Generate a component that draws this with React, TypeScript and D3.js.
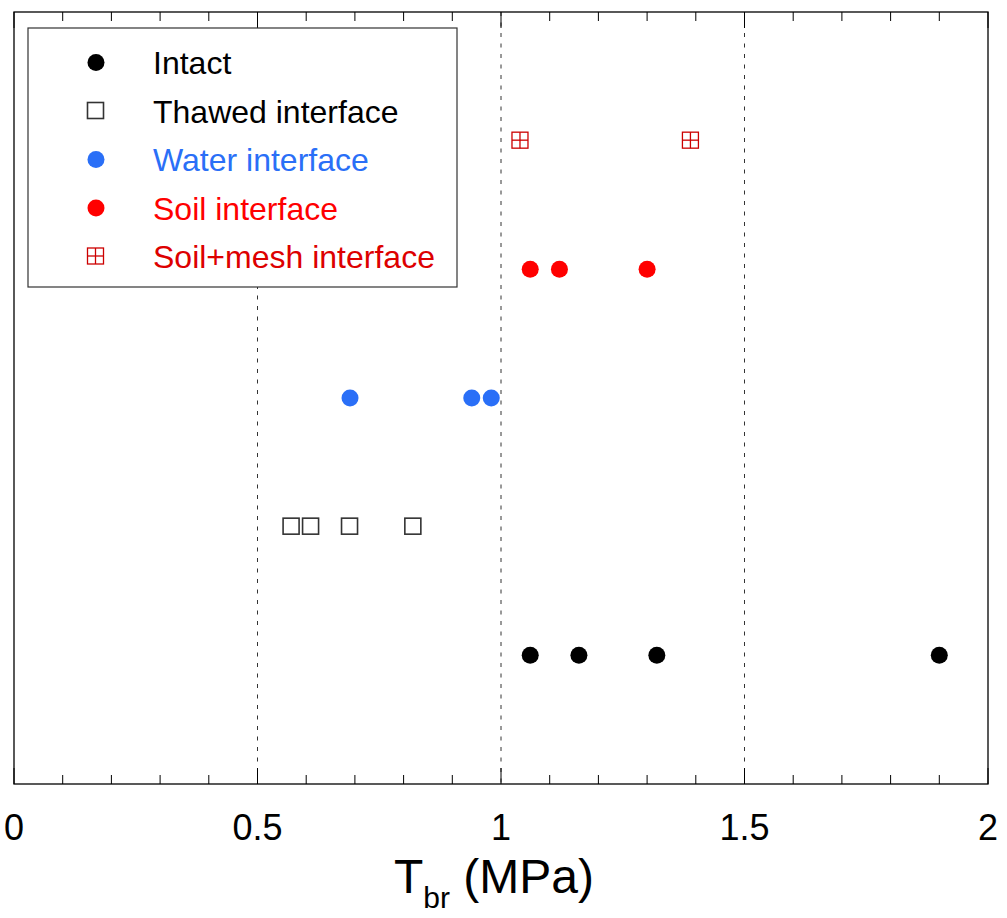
import React from "react";
import * as d3 from "d3";

const seriesNames = ["Intact", "Thawed interface", "Water interface", "Soil interface", "Soil+mesh interface"];
const seriesRows = [1, 2, 3, 4, 5];
const intactValues = [1.06, 1.16, 1.32, 1.9];
const thawedValues = [0.57, 0.61, 0.69, 0.82];
const waterValues = [0.69, 0.94, 0.98];
const soilValues = [1.06, 1.12, 1.3];
const soilMeshValues = [1.04, 1.39];
const xTicks = [0, 0.5, 1, 1.5, 2];
const xTickLabels = ["0", "0.5", "1", "1.5", "2"];
const gridValues = [0.5, 1, 1.5];

const W = 1007;
const H = 918;
const left = 14;
const right = 988;
const top = 12;
const bottom = 784;
const FONT = "'Liberation Sans', Arial, Helvetica, sans-serif";

type Kind = "dot" | "square" | "mesh";
const styles: { kind: Kind; color: string; text: string }[] = [
  { kind: "dot", color: "#000000", text: "#000000" },
  { kind: "square", color: "#333333", text: "#000000" },
  { kind: "dot", color: "#2a6ff7", text: "#2a6ff7" },
  { kind: "dot", color: "#ff0000", text: "#ff0000" },
  { kind: "mesh", color: "#cc0000", text: "#dd0000" },
];

function Marker({ kind, color, cx, cy }: { kind: Kind; color: string; cx: number; cy: number }) {
  const s = 17;
  if (kind === "dot") return <circle cx={cx} cy={cy} r={8.5} fill={color} />;
  if (kind === "square")
    return <rect x={cx - s / 2} y={cy - s / 2} width={s - 1} height={s - 1} fill="none" stroke={color} strokeWidth={1.6} />;
  return (
    <g stroke={color} strokeWidth={1.3} fill="none">
      <rect x={cx - s / 2} y={cy - s / 2} width={s - 1} height={s - 1} />
      <line x1={cx - 0.5} x2={cx - 0.5} y1={cy - s / 2} y2={cy + s / 2 - 1} />
      <line x1={cx - s / 2} x2={cx + s / 2 - 1} y1={cy - 0.5} y2={cy - 0.5} />
    </g>
  );
}

export default function App() {
  const x = d3.scaleLinear().domain([0, 2]).range([left, right]);
  const y = d3.scaleLinear().domain([0, 6]).range([bottom, top]);
  const minor = d3.range(0, 21).map((i) => i / 10);
  const data = [intactValues, thawedValues, waterValues, soilValues, soilMeshValues];

  const legX = 28, legY = 28, legW = 429, legH = 259;
  const rowY = (i: number) => 62.5 + i * 48.5;

  return (
    <svg width={W} height={H} style={{ position: "absolute", left: 0, top: 0, background: "#fff" }} fontFamily={FONT}>
      <rect x={0} y={0} width={W} height={H} fill="#fff" />
      {gridValues.map((g) => (
        <line key={"g" + g} x1={x(g)} x2={x(g)} y1={top} y2={bottom} stroke="#333" strokeWidth={1} strokeDasharray="4,6.5" />
      ))}
      {minor.map((v, i) => {
        const major = i % 5 === 0;
        const len = major ? 16 : 9;
        return (
          <g key={"t" + i} stroke="#000" strokeWidth={1}>
            <line x1={x(v)} x2={x(v)} y1={bottom} y2={bottom - len} />
            <line x1={x(v)} x2={x(v)} y1={top} y2={top + len} />
          </g>
        );
      })}
      <rect x={left} y={top} width={right - left} height={bottom - top} fill="none" stroke="#000" strokeWidth={1.3} />
      {xTicks.map((t, i) => (
        <text key={"l" + i} x={x(t)} y={840} fontSize={36} textAnchor="middle" fill="#000">
          {xTickLabels[i]}
        </text>
      ))}
      <text x={394} y={893} fontSize={48} fill="#000">
        T
        <tspan fontSize={30} dy={15}>br</tspan>
        <tspan dy={-15}> (MPa)</tspan>
      </text>
      {data.map((vals, si) =>
        vals.map((v, j) => (
          <Marker key={si + "-" + j} kind={styles[si].kind} color={styles[si].color} cx={x(v)} cy={y(seriesRows[si])} />
        ))
      )}
      <rect x={legX} y={legY} width={legW} height={legH} fill="#fff" stroke="#333" strokeWidth={1.2} />
      {seriesNames.map((name, i) => (
        <g key={"leg" + i}>
          <Marker kind={styles[i].kind} color={styles[i].color} cx={96} cy={rowY(i)} />
          <text x={153} y={rowY(i) + 11.5} fontSize={32} fill={styles[i].text}>
            {name}
          </text>
        </g>
      ))}
    </svg>
  );
}
